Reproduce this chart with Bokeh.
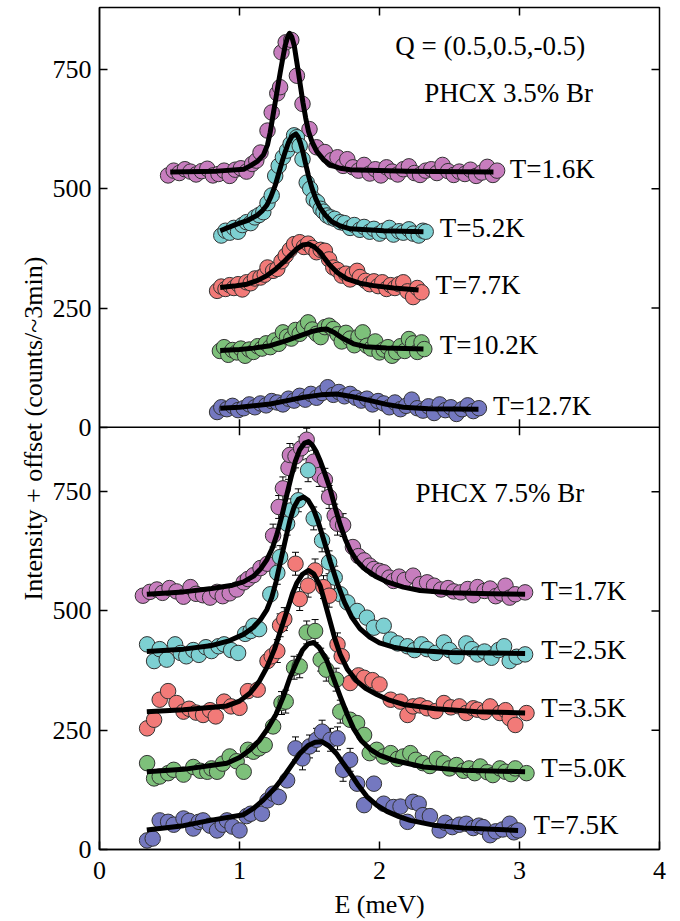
from bokeh.plotting import figure
from bokeh.models import Range1d, FixedTicker, Span
from bokeh.core.properties import value
from bokeh.embed import file_html
from bokeh.resources import INLINE

FONT = "Liberation Serif"
OFFSET = 885  # vertical shift of the upper (3.5% Br) panel
Y_TOP = 1765

# ---------------- upper panel: PHCX 3.5% Br ----------------
top_labels = ["T=1.6K", "T=5.2K", "T=7.7K", "T=10.2K", "T=12.7K"]
top_label_x = [2.93, 2.43, 2.40, 2.43, 2.81]
top_label_y = [541, 417, 298, 172, 45]

top_16K = [(0.49,528),(0.53,538),(0.57,533),(0.61,541),(0.65,536),(0.69,530),(0.73,537),(0.77,542),
           (0.81,528),(0.85,531),(0.89,538),(0.93,527),(0.97,540),(1.01,543),(1.05,536),(1.09,552),
           (1.12,559),(1.15,576),(1.20,622),(1.23,660),(1.27,700),(1.29,713),(1.30,786),(1.33,807),
           (1.37,812),(1.41,737),(1.45,678),(1.50,625),(1.55,587),(1.61,577),(1.66,560),(1.70,566),
           (1.74,548),(1.77,562),(1.81,545),(1.85,538),(1.89,550),(1.93,532),(1.97,541),(2.01,528),
           (2.05,545),(2.09,536),(2.13,530),(2.17,541),(2.21,547),(2.25,533),(2.29,529),(2.33,538),
           (2.37,541),(2.41,533),(2.45,550),(2.49,537),(2.53,529),(2.57,536),(2.61,531),(2.65,540),
           (2.69,527),(2.73,534),(2.77,546),(2.81,529),(2.84,538)]
top_16K_fit = [(0.505,535),(0.84,537),(1.03,541),(1.076,548),(1.13,558),(1.171,571),(1.20,592),
               (1.219,618),(1.237,650),(1.255,681),(1.273,713),(1.291,744),(1.31,775),(1.326,800),
               (1.343,817),(1.357,826),(1.374,818),(1.391,800),(1.406,772),(1.421,744),(1.437,712),
               (1.453,681),(1.473,648),(1.493,620),(1.52,597),(1.553,578),(1.60,561),(1.648,550),
               (1.72,543),(1.791,540),(2.2,537),(2.814,535)]

top_52K = [(0.87,402),(0.90,412),(0.93,408),(0.96,418),(0.99,410),(1.02,424),(1.05,430),(1.08,428),
           (1.11,440),(1.14,445),(1.17,451),(1.20,470),(1.23,486),(1.255,527),(1.28,548),(1.31,566),
           (1.34,580),(1.365,594),(1.39,612),(1.41,608),(1.43,590),(1.45,562),(1.48,513),(1.505,500),
           (1.53,478),(1.555,472),(1.58,458),(1.60,452),(1.625,444),(1.65,440),(1.68,437),(1.72,430),
           (1.75,428),(1.79,418),(1.82,424),(1.86,414),(1.89,420),(1.93,410),(1.96,416),(2.00,406),
           (2.03,412),(2.07,418),(2.10,404),(2.14,411),(2.17,408),(2.21,415),(2.24,406),(2.28,402),
           (2.31,412),(2.33,410)]
top_52K_fit = [(0.862,412),(0.981,426),(1.06,434),(1.124,444),(1.16,453),(1.196,466),(1.225,484),
               (1.255,507),(1.28,532),(1.303,556),(1.327,578),(1.35,597),(1.375,610),(1.403,615),
               (1.418,609),(1.434,597),(1.452,578),(1.469,556),(1.492,528),(1.517,502),(1.545,479),
               (1.576,460),(1.615,444),(1.66,431),(1.72,422),(1.791,416),(2.03,412),(2.314,410)]

top_77K = [(0.84,286),(0.87,295),(0.90,290),(0.93,298),(0.96,292),(0.99,300),(1.02,289),(1.05,304),
           (1.08,302),(1.11,312),(1.15,314),(1.18,320),(1.20,335),(1.24,328),(1.27,332),(1.30,348),
           (1.33,360),(1.36,372),(1.39,384),(1.43,388),(1.46,378),(1.49,385),(1.52,376),(1.55,367),
           (1.58,372),(1.61,370),(1.64,352),(1.67,335),(1.70,330),(1.73,318),(1.76,322),(1.79,310),
           (1.81,321),(1.84,328),(1.86,315),(1.90,307),(1.93,300),(1.96,306),(1.99,296),(2.02,304),
           (2.05,290),(2.08,298),(2.11,292),(2.14,300),(2.17,304),(2.20,285),(2.24,273),(2.27,292),
           (2.30,283)]
top_77K_fit = [(0.862,293),(0.96,296),(1.053,300),(1.13,308),(1.196,318),(1.26,332),(1.314,346),
               (1.36,360),(1.41,374),(1.45,382),(1.493,384),(1.535,378),(1.576,367),(1.61,353),
               (1.648,339),(1.70,324),(1.767,311),(1.86,302),(1.957,297),(2.1,292),(2.279,288)]

top_102K = [(0.86,160),(0.89,168),(0.92,152),(0.95,162),(0.98,157),(1.01,165),(1.04,150),(1.07,163),
            (1.10,158),(1.13,170),(1.16,165),(1.19,176),(1.22,168),(1.25,182),(1.28,175),(1.31,199),
            (1.34,190),(1.37,186),(1.40,204),(1.43,196),(1.46,210),(1.49,220),(1.52,205),(1.55,196),
            (1.58,189),(1.61,210),(1.64,213),(1.67,206),(1.70,195),(1.73,180),(1.76,198),(1.79,186),
            (1.82,172),(1.85,190),(1.88,199),(1.91,171),(1.94,165),(1.97,180),(2.00,157),(2.03,163),
            (2.06,168),(2.09,150),(2.12,158),(2.15,170),(2.18,160),(2.21,185),(2.24,176),(2.27,158),
            (2.30,178),(2.32,164)]
top_102K_fit = [(0.862,161),(1.0,163),(1.1,166),(1.219,171),(1.33,181),(1.434,192),(1.52,201),
                (1.58,205),(1.624,206),(1.68,198),(1.74,186),(1.814,175),(1.9,169),(2.05,166),
                (2.314,164)]

top_127K = [(0.84,32),(0.87,42),(0.91,38),(0.95,45),(0.99,36),(1.03,40),(1.07,48),(1.11,42),
            (1.15,50),(1.19,46),(1.23,55),(1.27,52),(1.31,48),(1.35,60),(1.39,56),(1.43,66),
            (1.47,58),(1.51,70),(1.55,62),(1.59,72),(1.63,84),(1.67,68),(1.71,74),(1.75,65),
            (1.79,70),(1.83,62),(1.87,56),(1.91,60),(1.95,48),(1.99,55),(2.03,50),(2.07,42),
            (2.11,52),(2.15,38),(2.19,45),(2.23,58),(2.27,40),(2.31,35),(2.35,44),(2.39,30),
            (2.43,48),(2.47,36),(2.51,42),(2.55,28),(2.59,38),(2.63,46),(2.67,34),(2.71,40)]
top_127K_fit = [(0.862,40),(1.0,42),(1.219,49),(1.34,56),(1.457,63),(1.58,68),(1.695,70),(1.81,64),
                (1.934,56),(2.05,48),(2.171,42),(2.35,39),(2.707,38)]

# ---------------- lower panel: PHCX 7.5% Br ----------------
bot_labels = ["T=1.7K", "T=2.5K", "T=3.5K", "T=5.0K", "T=7.5K"]
bot_label_x = [3.155, 3.155, 3.155, 3.155, 3.10]
bot_label_y = [542, 419, 297, 170, 51]
bot_base = [535, 415, 289, 163, 41]

bot_17K = [(0.31,532),(0.36,540),(0.41,545),(0.45,538),(0.50,548),(0.55,541),(0.60,530),(0.65,550),
           (0.69,536),(0.74,533),(0.79,528),(0.84,540),(0.88,531),(0.93,537),(0.98,545),(1.03,560),
           (1.06,567),(1.10,575),(1.15,590),(1.20,599),(1.24,658),(1.28,718),(1.31,757),(1.35,800),
           (1.36,827),(1.40,824),(1.44,841),(1.48,859),(1.53,813),(1.57,785),(1.61,775),(1.64,739),
           (1.68,700),(1.70,683),(1.74,680),(1.81,634),(1.85,615),(1.89,606),(1.93,595),(1.96,588),
           (2.00,584),(2.03,581),(2.07,570),(2.10,563),(2.14,572),(2.18,565),(2.24,574),(2.29,556),
           (2.34,560),(2.39,553),(2.44,545),(2.49,548),(2.53,541),(2.58,539),(2.63,546),(2.67,533),
           (2.70,550),(2.75,542),(2.79,547),(2.83,531),(2.87,537),(2.90,553),(2.93,528),(2.97,535),
           (3.04,539)]
bot_17K_fit = [(0.338,535),(0.6,540),(0.8,547),(0.95,554),(1.029,561),(1.10,573),(1.15,588),
               (1.195,607),(1.235,632),(1.267,660),(1.30,696),(1.339,745),(1.37,782),(1.398,813),
               (1.43,838),(1.465,852),(1.493,855),(1.52,848),(1.55,833),(1.576,815),(1.61,788),
               (1.648,755),(1.685,715),(1.719,681),(1.755,651),(1.791,627),(1.84,604),(1.886,590),
               (1.97,573),(2.053,561),(2.17,550),(2.29,543),(2.5,538),(2.8,536),(3.04,535)]

bot_25K = [(0.34,430),(0.39,395),(0.43,420),(0.48,398),(0.54,430),(0.58,412),(0.62,405),(0.67,418),
           (0.71,408),(0.76,424),(0.80,416),(0.85,426),(0.89,430),(0.94,418),(0.99,412),(1.04,452),
           (1.08,458),(1.10,469),(1.14,462),(1.22,535),(1.27,580),(1.29,613),(1.34,683),(1.37,711),
           (1.42,732),(1.49,795),(1.53,694),(1.59,648),(1.64,602),(1.68,570),(1.72,535),(1.77,518),
           (1.84,500),(1.91,486),(1.96,465),(2.03,469),(2.08,440),(2.13,432),(2.20,426),(2.25,418),
           (2.30,430),(2.34,420),(2.40,412),(2.46,434),(2.50,418),(2.55,405),(2.62,432),(2.66,420),
           (2.70,409),(2.75,415),(2.80,402),(2.85,418),(2.89,426),(2.93,395),(2.98,404),(3.04,409)]
bot_25K_fit = [(0.338,415),(0.6,420),(0.791,427),(0.93,438),(1.029,451),(1.10,466),(1.15,482),
               (1.196,503),(1.23,528),(1.26,560),(1.29,600),(1.33,652),(1.362,692),(1.39,718),
               (1.421,734),(1.457,739),(1.49,732),(1.529,713),(1.565,684),(1.60,651),(1.65,602),
               (1.70,557),(1.75,518),(1.80,488),(1.86,463),(1.93,445),(2.0,433),(2.1,424),
               (2.22,418),(2.5,413),(3.04,411)]

bot_35K = [(0.34,254),(0.39,272),(0.43,314),(0.49,332),(0.55,307),(0.60,289),(0.64,295),(0.69,287),
           (0.74,282),(0.79,292),(0.83,279),(0.89,310),(0.94,300),(1.00,297),(1.06,332),(1.13,335),
           (1.20,395),(1.23,405),(1.27,416),(1.29,470),(1.32,483),(1.40,599),(1.43,525),(1.49,553),
           (1.54,585),(1.60,550),(1.64,532),(1.70,430),(1.73,405),(1.79,349),(1.85,365),(1.89,360),
           (1.95,355),(2.00,346),(2.08,314),(2.15,310),(2.20,282),(2.24,300),(2.29,302),(2.34,296),
           (2.40,290),(2.46,307),(2.51,298),(2.57,300),(2.62,286),(2.67,296),(2.70,293),(2.75,288),
           (2.79,300),(2.86,286),(2.90,292),(2.93,275),(2.97,261),(3.05,286)]
bot_35K_fit = [(0.338,289),(0.6,293),(0.91,301),(1.0,311),(1.076,328),(1.14,352),(1.196,382),
               (1.25,420),(1.30,465),(1.35,510),(1.38,538),(1.41,559),(1.45,577),(1.493,585),
               (1.53,578),(1.576,553),(1.606,522),(1.636,490),(1.68,443),(1.719,409),(1.77,378),
               (1.838,353),(1.90,338),(1.981,325),(2.07,313),(2.171,304),(2.4,295),(2.7,289),
               (3.04,286)]

bot_50K = [(0.34,181),(0.39,149),(0.43,153),(0.49,160),(0.53,167),(0.60,157),(0.67,173),(0.72,165),
           (0.77,163),(0.80,170),(0.84,163),(0.88,180),(0.93,195),(0.98,185),(1.03,163),(1.06,209),
           (1.10,205),(1.14,212),(1.18,219),(1.24,258),(1.30,307),(1.33,310),(1.39,381),(1.43,384),
           (1.48,455),(1.54,458),(1.58,398),(1.62,377),(1.69,356),(1.72,289),(1.79,272),(1.84,265),
           (1.89,240),(1.93,202),(1.98,209),(2.03,195),(2.08,202),(2.13,190),(2.17,195),(2.22,202),
           (2.26,188),(2.31,181),(2.36,175),(2.41,190),(2.46,181),(2.50,170),(2.55,177),(2.60,165),
           (2.64,170),(2.68,160),(2.72,174),(2.77,162),(2.81,156),(2.86,170),(2.90,163),(2.94,158),
           (2.97,170),(3.05,160)]
bot_50K_fit = [(0.338,163),(0.6,168),(0.91,181),(1.0,193),(1.076,209),(1.14,228),(1.196,251),
               (1.26,283),(1.314,321),(1.36,360),(1.41,394),(1.45,418),(1.49,431),(1.529,434),
               (1.57,423),(1.624,396),(1.67,360),(1.719,321),(1.77,283),(1.814,254),(1.87,228),
               (1.934,210),(2.0,198),(2.1,187),(2.314,173),(2.6,166),(3.04,163)]

bot_75K = [(0.34,19),(0.38,23),(0.43,61),(0.49,58),(0.53,52),(0.60,65),(0.64,60),(0.67,44),
           (0.71,58),(0.74,61),(0.79,50),(0.84,40),(0.88,52),(0.91,61),(0.95,48),(1.00,40),
           (1.05,70),(1.08,75),(1.16,75),(1.20,103),(1.24,117),(1.28,110),(1.34,145),(1.40,212),
           (1.45,191),(1.50,216),(1.55,230),(1.59,247),(1.65,230),(1.70,233),(1.74,167),(1.79,188),
           (1.84,138),(1.89,93),(1.96,138),(2.03,96),(2.10,89),(2.15,90),(2.20,58),(2.24,100),
           (2.28,96),(2.31,72),(2.36,70),(2.43,40),(2.47,56),(2.52,47),(2.57,52),(2.62,54),
           (2.67,45),(2.71,50),(2.74,47),(2.79,30),(2.83,38),(2.88,42),(2.93,54),(2.96,36),(2.99,40)]
bot_75K_fit = [(0.338,41),(0.6,50),(0.791,61),(1.029,73),(1.10,86),(1.171,104),(1.25,128),
               (1.314,152),(1.38,180),(1.434,202),(1.49,218),(1.54,225),(1.588,226),(1.64,217),
               (1.695,200),(1.74,181),(1.791,160),(1.85,134),(1.91,111),(1.98,93),(2.053,80),
               (2.14,69),(2.219,61),(2.386,51),(2.6,45),(2.99,40)]

colors = ["#c77dbe", "#7dd0d2", "#f27a78", "#7dc07a", "#7478c0"]
y_ticks = [0, 250, 500, 750]
x_ticks = [0, 1, 2, 3, 4]

top_series = [top_16K, top_52K, top_77K, top_102K, top_127K]
top_fits = [top_16K_fit, top_52K_fit, top_77K_fit, top_102K_fit, top_127K_fit]
bot_series = [bot_17K, bot_25K, bot_35K, bot_50K, bot_75K]
bot_fits = [bot_17K_fit, bot_25K_fit, bot_35K_fit, bot_50K_fit, bot_75K_fit]

p = figure(width=671, height=921, x_range=Range1d(0, 4), y_range=Range1d(0, Y_TOP),
           output_backend="svg", toolbar_location=None,
           min_border_left=99, min_border_right=12, min_border_top=7, min_border_bottom=72)
p.xgrid.visible = False
p.ygrid.visible = False
p.outline_line_color = "black"
p.outline_line_width = 1.5
p.background_fill_color = "white"
p.border_fill_color = "white"

all_yticks = y_ticks + [t + OFFSET for t in y_ticks]
overrides = {t: str(t) for t in y_ticks}
overrides.update({t + OFFSET: str(t) for t in y_ticks})

ya = p.yaxis[0]
ya.ticker = FixedTicker(ticks=all_yticks)
ya.major_label_overrides = overrides
xa = p.xaxis[0]
xa.ticker = FixedTicker(ticks=x_ticks)
for ax in (xa, ya):
    ax.major_tick_in = 8
    ax.major_tick_out = 0
    ax.minor_tick_line_color = None
    ax.axis_line_color = "black"
    ax.axis_line_width = 1.5
    ax.major_tick_line_width = 1.5
    ax.major_label_text_font = FONT
    ax.major_label_text_font_size = "26px"
    ax.major_label_text_color = "black"
    ax.axis_label_text_font = FONT
    ax.axis_label_text_font_size = "26px"
    ax.axis_label_text_font_style = "normal"
    ax.axis_label_text_color = "black"
xa.axis_label = "E (meV)"
xa.major_label_standoff = 12
xa.axis_label_standoff = 8
ya.axis_label = "Intensity + offset (counts/~3min)"
ya.major_label_standoff = 8
ya.axis_label_standoff = 2

# inward ticks on the right edge, the top edge and on both sides of the panel divider
TX = 8 / 140.0      # 8 px expressed in meV
TY = 8 / 0.477      # 8 px expressed in counts
rt = [t for t in all_yticks if t not in (0, OFFSET)]
p.segment(x0=[4 - TX] * len(rt), y0=rt, x1=[4] * len(rt), y1=rt, line_color="black", line_width=1.5)
inner_x = x_ticks[1:-1]
p.segment(x0=inner_x, y0=[Y_TOP - TY] * 3, x1=inner_x, y1=[Y_TOP] * 3, line_color="black", line_width=1.5)
p.segment(x0=inner_x, y0=[OFFSET - TY] * 3, x1=inner_x, y1=[OFFSET + TY] * 3,
          line_color="black", line_width=1.5)
p.add_layout(Span(location=OFFSET, dimension="width", line_color="black", line_width=1.5))

# error bars (lower panel, visible around the peaks)
for pts, base in zip(bot_series, bot_base):
    ex = [e for e, v in pts if v - base > 120]
    ev = [v for e, v in pts if v - base > 120]
    lo = [v - 24 for v in ev]
    hi = [v + 24 for v in ev]
    p.segment(x0=ex, y0=lo, x1=ex, y1=hi, line_color="black", line_width=1)
    p.scatter(ex, lo, marker="dash", size=7, line_color="black", line_width=1)
    p.scatter(ex, hi, marker="dash", size=7, line_color="black", line_width=1)

for pts, c in zip(top_series, colors):
    p.scatter([e for e, v in pts], [v + OFFSET for e, v in pts], size=15.5,
              fill_color=c, line_color="#333333", line_width=1)
for pts, c in zip(bot_series, colors):
    p.scatter([e for e, v in pts], [v for e, v in pts], size=15.5,
              fill_color=c, line_color="#333333", line_width=1)

for f in top_fits:
    p.line([e for e, v in f], [v + OFFSET for e, v in f], line_color="black", line_width=5,
           line_join="round")
for f in bot_fits:
    p.line([e for e, v in f], [v for e, v in f], line_color="black", line_width=5,
           line_join="round")

txt = dict(text_font=value(FONT), text_font_size="27px", text_color="black",
           text_baseline="middle", text_align="left")
p.text(x=top_label_x, y=[v + OFFSET for v in top_label_y], text=top_labels, **txt)
p.text(x=bot_label_x, y=bot_label_y, text=bot_labels, **txt)
p.text(x=[2.112, 2.32], y=[799 + OFFSET, 701 + OFFSET],
       text=["Q = (0.5,0.5,-0.5)", "PHCX 3.5% Br"], **txt)
p.text(x=[2.257], y=[748], text=["PHCX 7.5% Br"], **txt)

open("out.html", "w").write(file_html(p, INLINE))
